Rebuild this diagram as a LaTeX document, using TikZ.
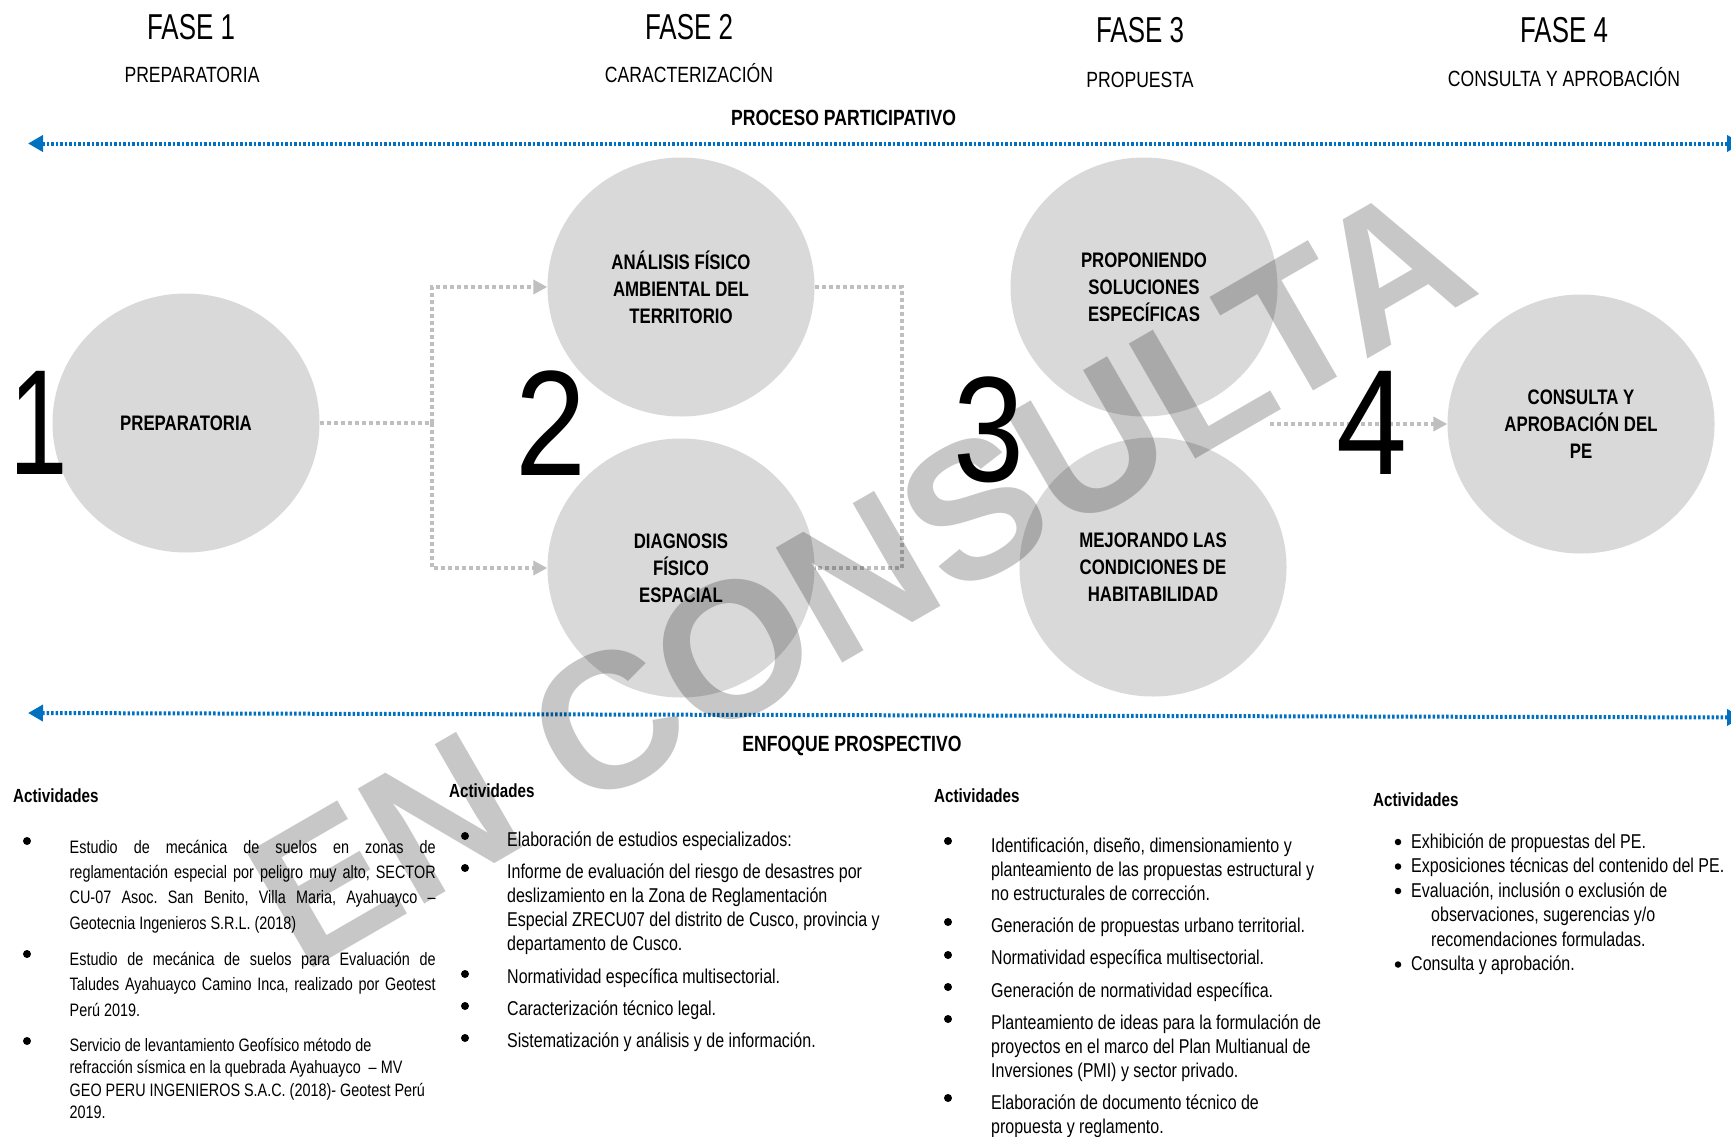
\documentclass[tikz,border=0pt]{standalone}
\usepackage{fontspec}
\setmainfont{Liberation Sans}[FakeStretch=0.8]
\newfontfamily\headfont{Liberation Sans}[FakeStretch=0.72]
\newfontfamily\digitfont{Liberation Sans}[FakeStretch=0.85]
\newfontfamily\onefont{Liberation Sans}[FakeStretch=0.7]
\newfontfamily\wmfont{Liberation Sans}
\usetikzlibrary{shapes.geometric,arrows.meta}
\definecolor{cgray}{HTML}{D9D9D9}
\definecolor{lgray}{HTML}{BFBFBF}
\definecolor{bblue}{HTML}{0070C0}
\frenchspacing
\begin{document}
\begin{tikzpicture}[x=1pt,y=-1pt,
  circ/.style={ellipse, fill=cgray, minimum width=267pt, minimum height=259pt, inner sep=0pt, align=center, font=\bfseries\fontsize{21}{27}\selectfont},
  fase/.style={anchor=base, inner sep=0pt, font=\headfont\fontsize{36}{40}\selectfont},
  subt/.style={anchor=base, inner sep=0pt, font=\fontsize{22}{26}\selectfont},
  band/.style={anchor=base, inner sep=0pt, font=\bfseries\fontsize{22}{26}\selectfont},
  digit/.style={inner sep=0pt, font=\digitfont\fontsize{150}{150}\selectfont},
  acts/.style={anchor=base west, inner sep=0pt, font=\bfseries\fontsize{19}{22}\selectfont},
  body/.style={anchor=base west, inner sep=0pt, align=flush left, font=\fontsize{20}{24.2}\selectfont},
  bul/.style={circle, fill=black, inner sep=0pt, minimum size=8pt},
  sbul/.style={circle, fill=black, inner sep=0pt, minimum size=6.5pt},
  gline/.style={draw=lgray, line width=3.5pt, dash pattern=on 4pt off 3pt},
  garrow/.style={gline, -{Triangle[length=14pt,width=14pt]}},
  barrow/.style={draw=bblue, line width=4pt, dash pattern=on 2.5pt off 2pt, {Triangle[length=15pt,width=16pt]}-{Triangle[length=15pt,width=16pt]}},
  wm/.style={font=\wmfont\bfseries\fontsize{193}{193}\selectfont, text=black, text opacity=0.22, inner sep=0pt}
]
\useasboundingbox (0,0) rectangle (1731,1137);
\fill[white] (0,0) rectangle (1731,1137);

% headings
\node[fase] (f1) at (191,39.5) {FASE 1};
\node[fase] (f2) at (689,39.5) {FASE 2};
\node[fase] (f3) at (1140,43) {FASE 3};
\node[fase] (f4) at (1564,43) {FASE 4};
\node[subt] (s1) at (192,83) {PREPARATORIA};
\node[subt] (s2) at (689,83) {CARACTERIZACIÓN};
\node[subt] (s3) at (1140,87.4) {PROPUESTA};
\node[subt] (s4) at (1564,86.3) {CONSULTA Y APROBACIÓN};
\node[band] (pp) at (843.5,125) {PROCESO PARTICIPATIVO};
\node[band] (ep) at (852,751) {ENFOQUE PROSPECTIVO};

% blue arrows
\coordinate (tl) at (28,143.5);
\coordinate (tr) at (1742,143.5);
\coordinate (bl) at (28,713);
\coordinate (br) at (1742,717.5);
\draw[barrow] (tl) -- (tr);
\draw[barrow] (bl) -- (br);

% circles
\node[circ] (c1) at (186,423) {PREPARATORIA};
\node[circ] (c2a) at (681,287) {ANÁLISIS FÍSICO\\AMBIENTAL DEL\\TERRITORIO};
\node[circ] (c2b) at (681,568) {DIAGNOSIS\\FÍSICO\\ESPACIAL};
\node[circ] (c3a) at (1144,287) {PROPONIENDO\\SOLUCIONES\\ESPECÍFICAS};
\node[circ] (c3b) at (1153,567) {MEJORANDO LAS\\CONDICIONES DE\\HABITABILIDAD};
\node[circ] (c4) at (1581,424) {CONSULTA Y\\APROBACIÓN DEL\\PE};

% connectors
\coordinate (j1) at (432,423);
\draw[gline] (c1.east) -- (j1);
\draw[garrow] (j1) |- (c2a.west);
\draw[garrow] (j1) |- (c2b.west);
\coordinate (k1) at (902,287);
\coordinate (k2) at (902,568);
\draw[gline] (c2a.east) -- (k1) -- (k2) -- (c2b.east);
\coordinate (s3s) at (1270,424);
\draw[garrow] (s3s) -- (c4.west);

% digits
\node[digit, font=\onefont\fontsize{150}{150}\selectfont] (d1) at (39,423) {1};
\node[digit] (d2) at (551,423) {2};
\node[digit] (d3) at (989,430) {3};
\node[digit] (d4) at (1372,423) {4};

% column 1
\node[acts] (a1) at (13,802) {Actividades};
\node[bul] (b11) at (27,841) {};
\node[bul] (b12) at (27,954) {};
\node[bul] (b13) at (27,1041) {};
\node[body, text width=366pt, font=\fontsize{18}{25.4}\selectfont] (t11) at (69.5,853)
 {\makebox[366pt][s]{Estudio de mecánica de suelos en zonas de}\\
  \makebox[366pt][s]{reglamentación especial por peligro muy alto, SECTOR}\\
  \makebox[366pt][s]{CU-07 Asoc. San Benito, Villa Maria, Ayahuayco –}\\
  Geotecnia Ingenieros S.R.L. (2018)};
\node[body, text width=366pt, font=\fontsize{18}{25.4}\selectfont] (t12) at (69.5,965.5)
 {\makebox[366pt][s]{Estudio de mecánica de suelos para Evaluación de}\\
  \makebox[366pt][s]{Taludes Ayahuayco Camino Inca, realizado por Geotest}\\
  Perú 2019.};
\node[body, text width=366pt, font=\fontsize{18}{22.4}\selectfont] (t13) at (69.5,1051.5)
 {Servicio de levantamiento Geofísico método de\\
  refracción sísmica en la quebrada Ayahuayco \ – MV\\
  GEO PERU INGENIEROS S.A.C. (2018)- Geotest Perú\\
  2019.};

% column 2
\node[acts] (a2) at (449,797.5) {Actividades};
\node[bul] (b21) at (465,836) {};
\node[bul] (b22) at (465,868) {};
\node[bul] (b23) at (465,974) {};
\node[bul] (b24) at (465,1006) {};
\node[bul] (b25) at (465,1038) {};
\node[body, text width=400pt] (t21) at (507,846) {Elaboración de estudios especializados:};
\node[body, text width=400pt, font=\fontsize{20}{24}\selectfont] (t22) at (507,878) {Informe de evaluación del riesgo de desastres por\\
  deslizamiento en la Zona de Reglamentación\\
  Especial ZRECU07 del distrito de Cusco, provincia y\\
  departamento de Cusco.};
\node[body, text width=400pt] (t23) at (507,983) {Normatividad específica multisectorial.};
\node[body, text width=400pt] (t24) at (507,1015) {Caracterización técnico legal.};
\node[body, text width=400pt] (t25) at (507,1047) {Sistematización y análisis y de información.};

% column 3
\node[acts] (a3) at (934,802) {Actividades};
\node[bul] (b31) at (948,841) {};
\node[bul] (b32) at (948,922) {};
\node[bul] (b33) at (948,955) {};
\node[bul] (b34) at (948,987) {};
\node[bul] (b35) at (948,1019) {};
\node[bul] (b36) at (948,1098) {};
\node[body, text width=380pt] (t31) at (991,852) {Identificación, diseño, dimensionamiento y\\
  planteamiento de las propuestas estructural y\\
  no estructurales de corrección.};
\node[body, text width=380pt] (t32) at (991,932) {Generación de propuestas urbano territorial.};
\node[body, text width=380pt] (t33) at (991,964) {Normatividad específica multisectorial.};
\node[body, text width=380pt] (t34) at (991,997) {Generación de normatividad específica.};
\node[body, text width=380pt] (t35) at (991,1029) {Planteamiento de ideas para la formulación de\\
  proyectos en el marco del Plan Multianual de\\
  Inversiones (PMI) y sector privado.};
\node[body, text width=380pt] (t36) at (991,1109) {Elaboración de documento técnico de\\
  propuesta y reglamento.};

% column 4
\node[acts] (a4) at (1373,806) {Actividades};
\node[sbul] (b41) at (1398,842) {};
\node[sbul] (b42) at (1398,866.5) {};
\node[sbul] (b43) at (1398,891) {};
\node[sbul] (b44) at (1398,964.5) {};
\node[body, text width=318pt, font=\fontsize{20}{24.5}\selectfont] (t41) at (1411,848) {Exhibición de propuestas del PE.};
\node[body, text width=318pt, font=\fontsize{20}{24.5}\selectfont] (t42) at (1411,872.5) {Exposiciones técnicas del contenido del PE.};
\node[body, text width=318pt, font=\fontsize{20}{24.5}\selectfont] (t43) at (1411,897) {Evaluación, inclusión o exclusión de\\
  \hspace*{20pt}observaciones, sugerencias y/o\\
  \hspace*{20pt}recomendaciones formuladas.};
\node[body, text width=318pt, font=\fontsize{20}{24.5}\selectfont] (t44) at (1411,970.5) {Consulta y aprobación.};

% watermark
\node[wm, rotate=30] (wmk) at (860,576) {EN CONSULTA};
\end{tikzpicture}
\end{document}
